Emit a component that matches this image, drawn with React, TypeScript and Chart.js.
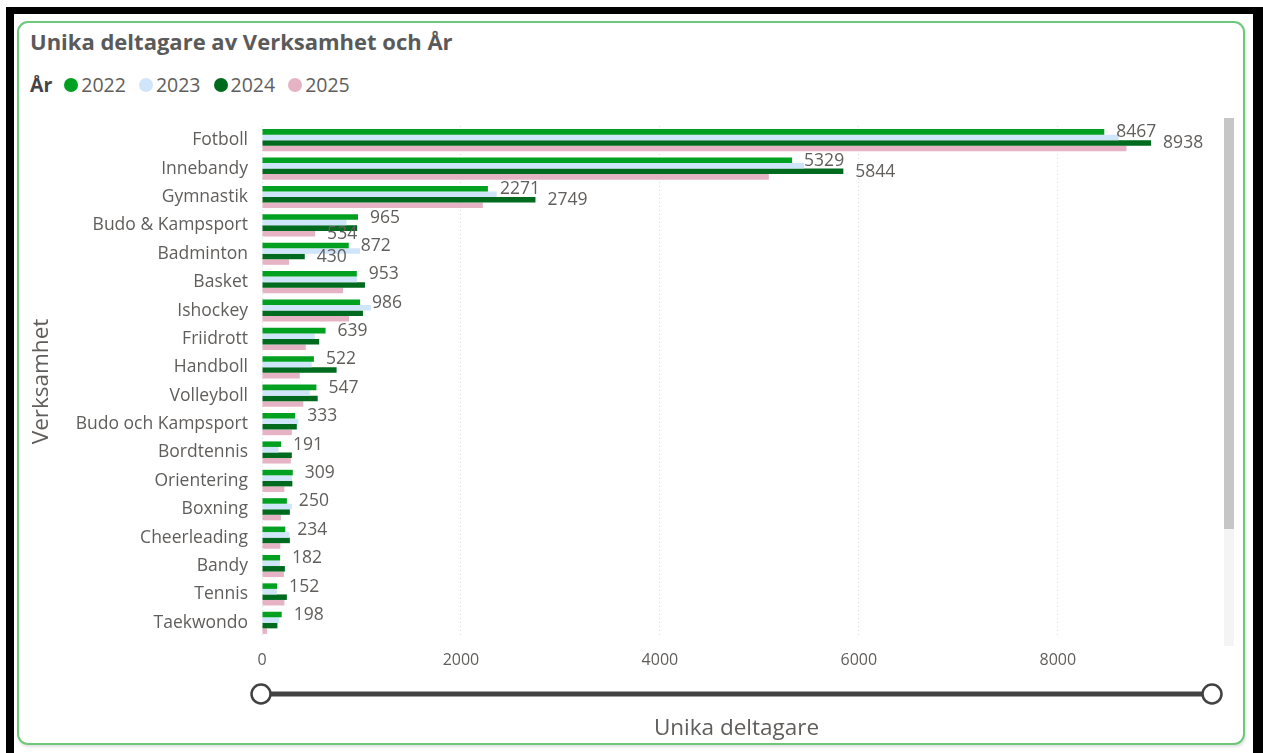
import React, { useEffect, useRef } from "react";
import { Chart, registerables } from "chart.js";

Chart.register(...registerables);

const categories = [
  "Fotboll",
  "Innebandy",
  "Gymnastik",
  "Budo & Kampsport",
  "Badminton",
  "Basket",
  "Ishockey",
  "Friidrott",
  "Handboll",
  "Volleyboll",
  "Budo och Kampsport",
  "Bordtennis",
  "Orientering",
  "Boxning",
  "Cheerleading",
  "Bandy",
  "Tennis",
  "Taekwondo",
];

const years = ["2022", "2023", "2024", "2025"];

const v2022 = [8467, 5329, 2271, 965, 872, 953, 986, 639, 522, 547, 333, 191, 309, 250, 234, 182, 152, 198];
const v2023 = [8610, 5450, 2360, 850, 985, 955, 1095, 530, 500, 480, 365, 165, 300, 300, 275, 180, 150, 175];
const v2024 = [8938, 5844, 2749, 957, 430, 1035, 1015, 575, 750, 560, 350, 300, 305, 280, 280, 230, 250, 155];
const v2025 = [8690, 5095, 2220, 534, 272, 815, 875, 440, 380, 415, 300, 290, 225, 190, 185, 220, 225, 50];

// which series show a data label, by category
const labeled2022 = categories;
const labeled2024 = ["Fotboll", "Innebandy", "Gymnastik", "Badminton"];
const labeled2025 = ["Budo & Kampsport"];

const xTicks = [0, 2000, 4000, 6000, 8000];
const xMax = 9540;

const colors = ["#00A020", "#CFE5FA", "#006B1E", "#E6B3C4"];
const textColor = "#605E5C";
const FONT = "'Open Sans', 'Noto Sans', sans-serif";

const labelPlugin = {
  id: "barLabels",
  afterDatasetsDraw(chart: any) {
    const ctx = chart.ctx;
    const sets: [number, string[]][] = [
      [0, labeled2022],
      [2, labeled2024],
      [3, labeled2025],
    ];
    ctx.save();
    ctx.font = `17.5px ${FONT}`;
    ctx.fillStyle = textColor;
    ctx.textAlign = "left";
    ctx.textBaseline = "middle";
    sets.forEach(([di, cats]) => {
      const meta = chart.getDatasetMeta(di);
      const ds = chart.data.datasets[di];
      cats.forEach((c) => {
        const ci = categories.indexOf(c);
        const bar = meta.data[ci];
        if (!bar) return;
        ctx.fillText(String(ds.data[ci]), bar.x + 12, bar.y + 0.5);
      });
    });
    ctx.restore();
  },
};

const sliderPlugin = {
  id: "slider",
  afterDraw(chart: any) {
    const ctx = chart.ctx;
    const xs = chart.scales.x;
    const x0 = xs.getPixelForValue(0) - 1;
    const x1 = chart.chartArea.right + 1;
    const y = 694;
    ctx.save();
    ctx.strokeStyle = "#424242";
    ctx.lineWidth = 5;
    ctx.beginPath();
    ctx.moveTo(x0, y);
    ctx.lineTo(x1, y);
    ctx.stroke();
    ctx.lineWidth = 2.5;
    ctx.fillStyle = "#ffffff";
    [x0, x1].forEach((cx) => {
      ctx.beginPath();
      ctx.arc(cx, y, 9.5, 0, Math.PI * 2);
      ctx.fill();
      ctx.stroke();
    });
    ctx.restore();
  },
};

export default function App() {
  const ref = useRef<HTMLCanvasElement>(null);

  useEffect(() => {
    const canvas = ref.current!;
    const chart = new Chart(canvas, {
      type: "bar",
      data: {
        labels: categories,
        datasets: [v2022, v2023, v2024, v2025].map((d, i) => ({
          label: years[i],
          data: d,
          backgroundColor: colors[i],
          categoryPercentage: 0.78,
          barPercentage: 1.0,
        })),
      },
      options: {
        indexAxis: "y",
        responsive: false,
        animation: false,
        devicePixelRatio: 1,
        layout: { padding: { left: 28, right: 52, top: 126, bottom: 11 } },
        plugins: {
          legend: { display: false },
          tooltip: { enabled: false },
          title: { display: false },
        },
        scales: {
          x: {
            min: 0,
            max: xMax,
            afterBuildTicks: (scale: any) => {
              scale.ticks = xTicks.map((v) => ({ value: v }));
            },
            afterFit: (scale: any) => {
              scale.height = 105;
            },
            ticks: {
              color: textColor,
              font: { family: FONT, size: 16 },
              padding: 14,
              callback: (v: any) => String(v),
            },
            grid: { color: "#DADADA", drawTicks: false, lineWidth: 1 },
            border: { display: false, dash: [1, 3] },
            title: {
              display: true,
              text: "Unika deltagare",
              color: textColor,
              font: { family: FONT, size: 22.5 },
              padding: { top: 0, bottom: 0 },
            },
          },
          y: {
            afterFit: (scale: any) => {
              scale.width = 234;
            },
            ticks: {
              color: textColor,
              font: { family: FONT, size: 17.5 },
              padding: 14,
            },
            grid: { display: false, drawTicks: false },
            border: { display: false },
            title: {
              display: true,
              text: "Verksamhet",
              color: textColor,
              font: { family: FONT, size: 22.5 },
              padding: { top: 0, bottom: 0 },
            },
          },
        },
      },
      plugins: [labelPlugin, sliderPlugin],
    } as any);
    return () => chart.destroy();
  }, []);

  const legendItems = years.map((y, i) => (
    <span key={y} style={{ display: "inline-flex", alignItems: "center", marginRight: 13 }}>
      <span
        style={{
          display: "inline-block",
          width: 14,
          height: 14,
          borderRadius: "50%",
          background: colors[i],
          marginRight: 3,
        }}
      />
      <span>{y}</span>
    </span>
  ));

  return (
    <div
      style={{
        position: "fixed",
        left: 0,
        top: 0,
        width: 1263,
        height: 753,
        background: "#ffffff",
        overflow: "hidden",
        fontFamily: FONT,
      }}
    >
      <div
        style={{
          position: "absolute",
          left: 6,
          top: 7,
          width: 1257,
          height: 760,
          boxSizing: "border-box",
          borderLeft: "8px solid #000",
          borderTop: "7px solid #000",
          borderRight: "10px solid #000",
        }}
      />
      <div
        style={{
          position: "absolute",
          left: 17,
          top: 21,
          width: 1228,
          height: 724,
          boxSizing: "border-box",
          border: "2px solid #6DC87B",
          borderRadius: 11,
          boxShadow: "1px 2px 3px rgba(0,0,0,0.12)",
          background: "#fff",
        }}
      />
      <div
        style={{
          position: "absolute",
          left: 30,
          top: 26,
          fontSize: 22,
          fontWeight: 700,
          color: "#5A5A5A",
          whiteSpace: "nowrap",
        }}
      >
        Unika deltagare av Verksamhet och År
      </div>
      <div
        style={{
          position: "absolute",
          left: 30,
          top: 71,
          fontSize: 19.5,
          color: textColor,
          display: "flex",
          alignItems: "center",
          whiteSpace: "nowrap",
        }}
      >
        <span style={{ fontWeight: 700, marginRight: 12, color: "#444" }}>År</span>
        {legendItems}
      </div>
      <div
        style={{
          position: "absolute",
          left: 1224,
          top: 118,
          width: 10,
          height: 528,
          background: "#F4F4F4",
        }}
      />
      <div
        style={{
          position: "absolute",
          left: 1224,
          top: 118,
          width: 10,
          height: 411,
          background: "#C6C6C6",
        }}
      />
      <canvas
        ref={ref}
        width={1263}
        height={753}
        style={{ position: "absolute", left: 0, top: 0, width: 1263, height: 753 }}
      />
    </div>
  );
}
